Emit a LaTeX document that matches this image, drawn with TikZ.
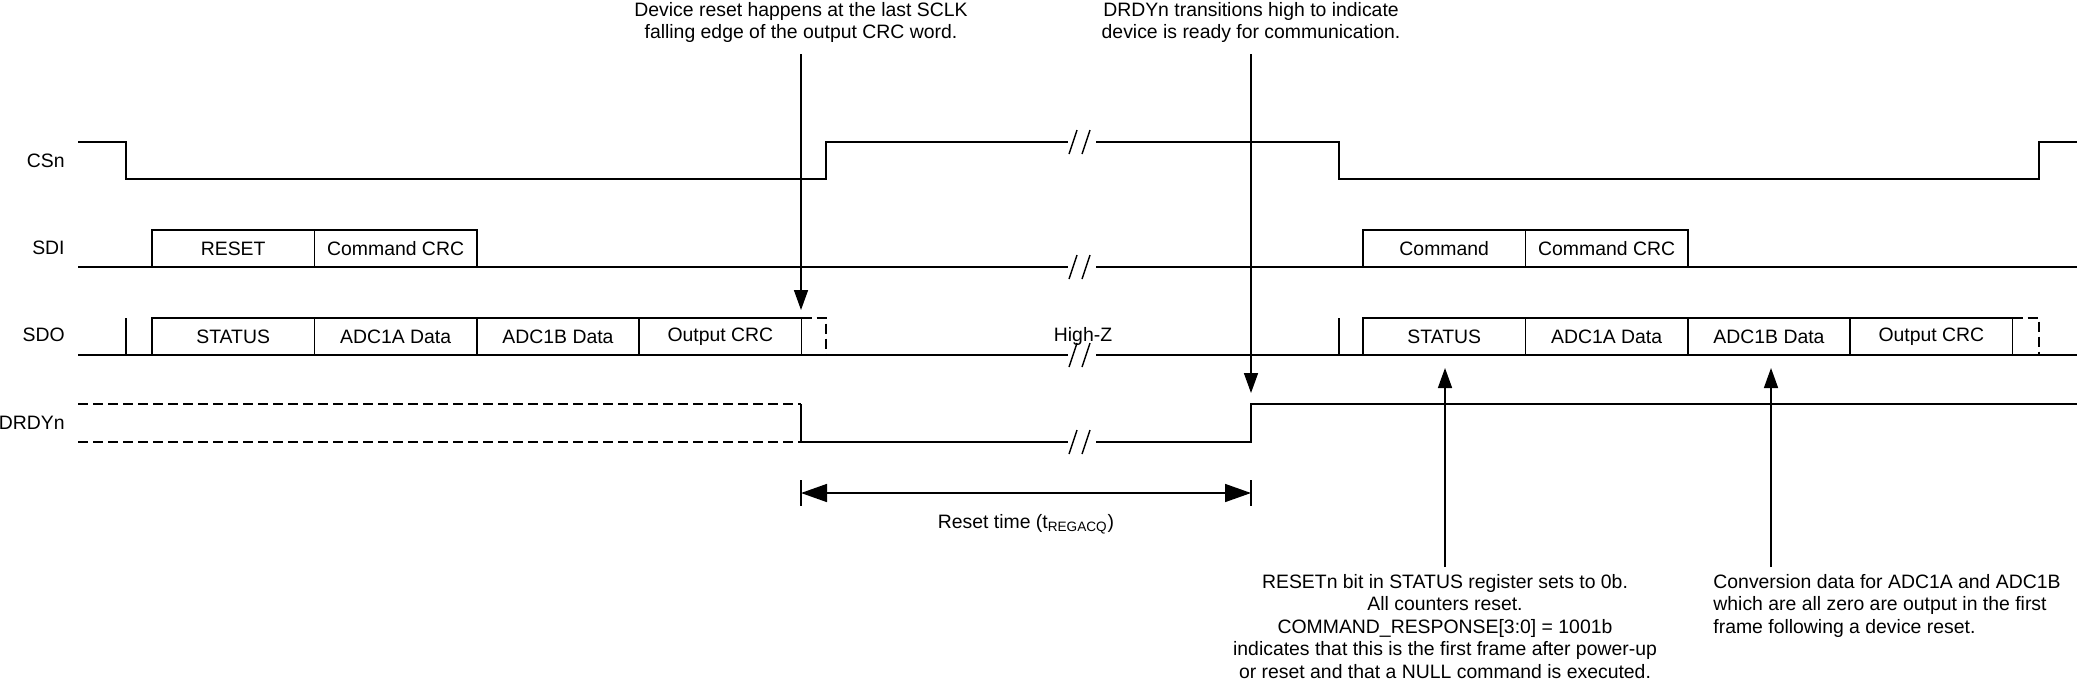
\documentclass[tikz,border=0pt]{standalone}
\usepackage{fontspec}
\setmainfont{Liberation Sans}
\usetikzlibrary{positioning, arrows.meta}

\begin{document}
\begin{tikzpicture}[
    x=0.5pt, y=-0.5pt,
    every node/.style={font=\fontsize{9.7}{11.25}\selectfont},
    sig/.style={line width=0.9pt},
    ghost/.style={sig, dash pattern=on 5pt off 2.5pt},
    field/.style={rectangle, draw, line width=0.8pt, minimum width=81.2pt, minimum height=18.5pt, inner sep=0pt, outer sep=0pt},
    signame/.style={anchor=east, inner sep=0pt},
    note/.style={align=center, inner sep=0pt},
    arrow/.style={-{Triangle[length=10pt, width=7pt]}, line width=0.8pt},
    span/.style={{Triangle[length=13pt, width=9pt]}-{Triangle[length=13pt, width=9pt]}, line width=0.8pt},
    brk/.style={line width=0.7pt},
]
\useasboundingbox (0,0) rectangle (2077,692);

% Signal names
\node[signame] (lblCSn) at (65,161) {CSn};
\node[signame] (lblSDI) at (65,248) {SDI};
\node[signame] (lblSDO) at (65,335) {SDO};
\node[signame] (lblDRDY) at (65,423) {DRDYn};

% CSn
\draw[sig] (78,142) -- (126,142) -- (126,179) -- (826,179) -- (826,142) -- (1068,142);
\draw[sig] (1096,142) -- (1339,142) -- (1339,179) -- (2039,179) -- (2039,142) -- (2077,142);

% SDI (first and second frame)
\draw[sig] (78,267) -- (1068,267);
\draw[sig] (1096,267) -- (2077,267);
\node[field, anchor=south west] (sdiReset) at (152,267) {RESET};
\node[field, right=0pt of sdiReset] (sdiCrc) {Command CRC};
\node[field, anchor=south west] (sdiCmd) at (1363,267) {Command};
\node[field, right=0pt of sdiCmd] (sdiCmdCrc) {Command CRC};

% SDO (first and second frame)
\draw[sig] (78,355) -- (1068,355);
\draw[sig] (1096,355) -- (2077,355);
\draw[sig] (126,318) -- (126,355);
\draw[sig] (1339,318) -- (1339,355);
\node[field, anchor=south west] (sdoStatus) at (152,355) {STATUS};
\node[field, right=0pt of sdoStatus] (sdoAdcA) {ADC1A Data};
\node[field, right=0pt of sdoAdcA] (sdoAdcB) {ADC1B Data};
\node[field, right=0pt of sdoAdcB] (sdoCrc) {Output CRC};
\draw[ghost] (sdoCrc.north east) -- (826,318) -- (826,355);
\node[field, anchor=south west] (sdoStatusB) at (1363,355) {STATUS};
\node[field, right=0pt of sdoStatusB] (sdoAdcAB) {ADC1A Data};
\node[field, right=0pt of sdoAdcAB] (sdoAdcBB) {ADC1B Data};
\node[field, right=0pt of sdoAdcBB] (sdoCrcB) {Output CRC};
\draw[ghost] (sdoCrcB.north east) -- (2039,318) -- (2039,355);
\node[inner sep=0pt] (hiZ) at (1083,336) {High-Z};

% DRDYn
\draw[ghost] (78,404) -- (801,404);
\draw[ghost] (78,442) -- (801,442);
\draw[sig] (801,404) -- (801,442) -- (1068,442);
\draw[sig] (1096,442) -- (1251,442) -- (1251,404) -- (2077,404);

% Break marks
\draw[brk] (1069,154) -- (1077,130) (1082,154) -- (1090,130);
\draw[brk] (1069,279) -- (1077,255) (1082,279) -- (1090,255);
\draw[brk] (1069,367) -- (1077,343) (1082,367) -- (1090,343);
\draw[brk] (1069,454) -- (1077,430) (1082,454) -- (1090,430);

% Top notes
\node[note, anchor=north] (noteReset) at (801,2) {Device reset happens at the last SCLK\\falling edge of the output CRC word.};
\node[note, anchor=north] (noteDrdy) at (1251,2) {DRDYn transitions high to indicate\\device is ready for communication.};
\coordinate (resetTop) at (801,54);
\coordinate (resetTip) at (801,310);
\coordinate (drdyTop) at (1251,54);
\coordinate (drdyTip) at (1251,393);
\draw[arrow] (resetTop) -- (resetTip);
\draw[arrow] (drdyTop) -- (drdyTip);

% Reset time
\coordinate (spanL) at (801,493);
\coordinate (spanR) at (1251,493);
\draw[brk] (801,480) -- (801,506) (1251,480) -- (1251,506);
\draw[span] (spanL) -- (spanR);
\node[inner sep=0pt] (resetTime) at (1026,524) {Reset time (t\textsubscript{REGACQ})};

% Bottom notes
\node[note, anchor=north] (noteStatus) at (1445,574) {RESETn bit in STATUS register sets to 0b.\\All counters reset.\\COMMAND\_RESPONSE[3:0] = 1001b\\indicates that this is the first frame after power-up\\or reset and that a NULL command is executed.};
\node[note, align=left, anchor=north west] (noteData) at (1713,574) {Conversion data for ADC1A and ADC1B\\which are all zero are output in the first\\frame following a device reset.};
\coordinate (statusFoot) at (1445,567);
\coordinate (statusTip) at (1445,368);
\coordinate (dataFoot) at (1771,567);
\coordinate (dataTip) at (1771,368);
\draw[arrow] (statusFoot) -- (statusTip);
\draw[arrow] (dataFoot) -- (dataTip);

\end{tikzpicture}
\end{document}
